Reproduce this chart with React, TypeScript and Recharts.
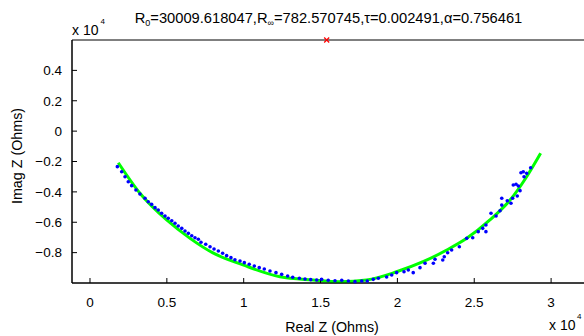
import React from 'react'
import {
  ComposedChart,
  XAxis,
  YAxis,
  Line,
  Scatter,
  ReferenceLine,
} from 'recharts'

// values in units of 1e4 Ohms, as plotted
const measuredRe = [
  0.178, 0.206, 0.228, 0.249, 0.271, 0.299, 0.325, 0.358, 0.379, 0.401,
  0.423, 0.444, 0.466, 0.488, 0.509, 0.532, 0.553, 0.574, 0.597, 0.618,
  0.64, 0.662, 0.683, 0.705, 0.722, 0.753, 0.781, 0.807, 0.835, 0.863,
  0.889, 0.917, 0.943, 0.976, 1.004, 1.036, 1.069, 1.101, 1.134, 1.171,
  1.21, 1.247, 1.286, 1.319, 1.362, 1.399, 1.436, 1.475, 1.507, 1.55,
  1.594, 1.638, 1.681, 1.724, 1.768, 1.804, 1.843, 1.876, 1.93, 1.963,
  1.995, 2.043, 2.071, 2.103, 2.147, 2.18, 2.234, 2.245, 2.295, 2.305,
  2.327, 2.353, 2.403, 2.451, 2.49, 2.526, 2.555, 2.576, 2.576, 2.609,
  2.642, 2.668, 2.679, 2.679, 2.715, 2.739, 2.75, 2.754, 2.772, 2.787,
  2.78, 2.798, 2.804, 2.819, 2.824, 2.841, 2.867,
]
const measuredIm = [
  -0.234, -0.267, -0.3, -0.333, -0.359, -0.388, -0.414, -0.442, -0.465, -0.482,
  -0.504, -0.519, -0.541, -0.559, -0.574, -0.59, -0.607, -0.625, -0.64, -0.658,
  -0.673, -0.689, -0.702, -0.712, -0.732, -0.745, -0.761, -0.776, -0.789, -0.804,
  -0.82, -0.833, -0.847, -0.855, -0.866, -0.877, -0.888, -0.899, -0.908, -0.921,
  -0.932, -0.943, -0.954, -0.962, -0.969, -0.974, -0.978, -0.98, -0.976, -0.982,
  -0.985, -0.982, -0.987, -0.991, -0.987, -0.987, -0.976, -0.969, -0.96, -0.947,
  -0.932, -0.926, -0.914, -0.932, -0.899, -0.87, -0.87, -0.844, -0.849, -0.827,
  -0.801, -0.783, -0.761, -0.706, -0.702, -0.662, -0.64, -0.618, -0.662, -0.541,
  -0.559, -0.524, -0.487, -0.442, -0.458, -0.475, -0.442, -0.355, -0.35, -0.361,
  -0.427, -0.392, -0.274, -0.267, -0.3, -0.278, -0.241,
]

const fitRe = [
  0.184, 0.325, 0.499, 0.651, 0.8, 0.995, 1.236, 1.451, 1.627, 1.8,
  1.995, 2.167, 2.321, 2.451, 2.602, 2.733, 2.841, 2.932,
]
const fitIm = [
  -0.208, -0.409, -0.585, -0.706, -0.802, -0.881, -0.959, -0.98, -0.991, -0.98,
  -0.926, -0.86, -0.783, -0.706, -0.585, -0.454, -0.3, -0.146,
]

const markRe = [1.54]
const markIm = [0.6]

const xTicks = [0, 0.5, 1, 1.5, 2, 2.5, 3]
const xTickLabels = ['0', '0.5', '1', '1.5', '2', '2.5', '3']
const yTicks = [-0.8, -0.6, -0.4, -0.2, 0, 0.2, 0.4]
const yTickLabels = ['\u22120.8', '\u22120.6', '\u22120.4', '\u22120.2', '0', '0.2', '0.4']

const measured = measuredRe.map((x, i) => ({ x, y: measuredIm[i] }))
const fit = fitRe.map((x, i) => ({ x, y: fitIm[i] }))
const mark = markRe.map((x, i) => ({ x, y: markIm[i] }))

const FONT = '"Liberation Sans", Arial, sans-serif'
const X_DOMAIN: [number, number] = [-0.1171, 3.2206]
const Y_DOMAIN: [number, number] = [-1, 0.6]

const xLabel = (v: number) => xTickLabels[xTicks.indexOf(v)] ?? String(v)
const yLabel = (v: number) => yTickLabels[yTicks.indexOf(v)] ?? String(v)

export default function App() {
  return (
    <div
      style={{
        position: 'fixed',
        left: 0,
        top: 0,
        width: 584,
        height: 336,
        overflow: 'hidden',
        background: '#fff',
        fontFamily: FONT,
      }}
    >
      <ComposedChart
        width={590}
        height={336}
        margin={{ top: 40, right: 5, bottom: 0, left: 0 }}
      >
        <XAxis
          type='number'
          dataKey='x'
          domain={X_DOMAIN}
          ticks={xTicks}
          tickFormatter={xLabel}
          height={53}
          tickSize={-5}
          tickMargin={19}
          interval={0}
          stroke='#000'
          axisLine={{ stroke: '#000' }}
          tickLine={{ stroke: '#000' }}
          tick={{ fill: '#000', fontSize: 13.5, fontFamily: FONT }}
        />
        <XAxis
          xAxisId='top'
          orientation='top'
          type='number'
          dataKey='x'
          domain={X_DOMAIN}
          ticks={xTicks}
          height={0}
          tickSize={-5}
          interval={0}
          stroke='#000'
          axisLine={{ stroke: '#000' }}
          tickLine={{ stroke: '#000' }}
          tick={false}
        />
        <YAxis
          type='number'
          domain={Y_DOMAIN}
          ticks={yTicks}
          tickFormatter={yLabel}
          width={72}
          tickSize={-5}
          tickMargin={15}
          interval={0}
          stroke='#000'
          axisLine={{ stroke: '#000' }}
          tickLine={{ stroke: '#000' }}
          tick={{ fill: '#000', fontSize: 13.5, fontFamily: FONT }}
        />
        <YAxis
          yAxisId='right'
          orientation='right'
          type='number'
          domain={Y_DOMAIN}
          ticks={yTicks}
          width={0}
          tickSize={-5}
          interval={0}
          stroke='#000'
          axisLine={{ stroke: '#000' }}
          tickLine={{ stroke: '#000' }}
          tick={false}
        />
        <ReferenceLine x={X_DOMAIN[0]} stroke='#000' ifOverflow='visible' />
        <ReferenceLine y={Y_DOMAIN[0]} stroke='#000' ifOverflow='visible' />
        <ReferenceLine y={Y_DOMAIN[1]} stroke='#000' ifOverflow='visible' />
        <Scatter
          data={measured}
          dataKey='y'
          isAnimationActive={false}
          shape={(p: any) => <circle cx={p.cx} cy={p.cy} r={1.8} fill='#0000ff' />}
        />
        <Line
          data={fit}
          dataKey='y'
          type='monotone'
          stroke='#00ff00'
          strokeWidth={3}
          dot={false}
          isAnimationActive={false}
        />
        <Scatter
          data={mark}
          dataKey='y'
          isAnimationActive={false}
          shape={(p: any) => (
            <g stroke='#ff0000' strokeWidth={1.3}>
              <line x1={p.cx - 2.5} y1={p.cy - 2.5} x2={p.cx + 2.5} y2={p.cy + 2.5} />
              <line x1={p.cx - 2.5} y1={p.cy + 2.5} x2={p.cx + 2.5} y2={p.cy - 2.5} />
            </g>
          )}
        />
      </ComposedChart>
      <svg
        width={584}
        height={336}
        style={{ position: 'absolute', left: 0, top: 0, pointerEvents: 'none' }}
        fontFamily={FONT}
      >
        <text x={328.5} y={22.7} textAnchor='middle' fontSize={14.7} fill='#000'>
          R<tspan fontSize={9} dy={3}>0</tspan>
          <tspan dy={-3}>=30009.618047,R</tspan>
          <tspan fontSize={9} dy={3}>∞</tspan>
          <tspan dy={-3}>=782.570745,τ=0.002491,α=0.756461</tspan>
        </text>
        <text x={72} y={35} fontSize={14} fill='#000'>x 10</text>
        <text x={100.5} y={23.5} fontSize={8} fill='#000'>4</text>
        <text x={549} y={330} fontSize={14} fill='#000'>x 10</text>
        <text x={577} y={318.5} fontSize={8} fill='#000'>4</text>
        <text x={332} y={332} textAnchor='middle' fontSize={14.3} fill='#000'>
          Real Z (Ohms)
        </text>
        <text
          x={0}
          y={0}
          transform='translate(22,156) rotate(-90)'
          textAnchor='middle'
          fontSize={14.3}
          fill='#000'
        >
          Imag Z (Ohms)
        </text>
      </svg>
    </div>
  )
}
